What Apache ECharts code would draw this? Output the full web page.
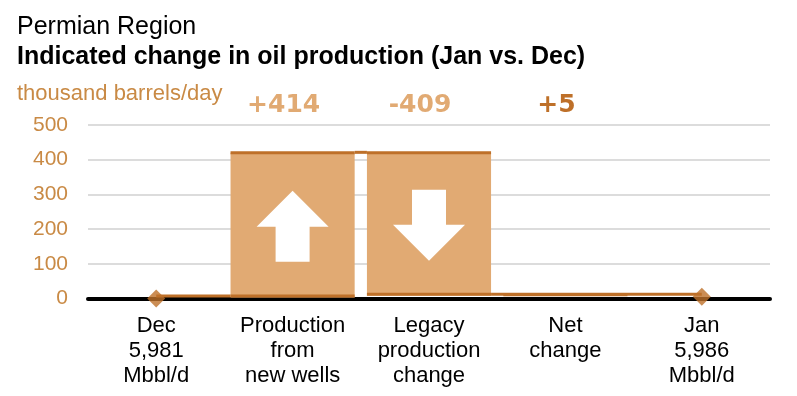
<!DOCTYPE html>
<html>
<head>
<meta charset="utf-8">
<script src="https://cdn.jsdelivr.net/npm/echarts@6/dist/echarts.min.js"></script>
<style>
html,body{margin:0;padding:0;background:#fff;}
#c{width:797px;height:396px;}
</style>
</head>
<body>
<div id="c"></div>
<script>
// ---- data ----
const categories = ['Dec\n5,981\nMbbl/d', 'Production\nfrom\nnew wells', 'Legacy\nproduction\nchange', 'Net\nchange', 'Jan\n5,986\nMbbl/d'];
const decLevel = 5981;          // Mbbl/d
const janLevel = 5986;          // Mbbl/d
const newWellsChange = 414;     // thousand b/d
const legacyChange = -409;      // thousand b/d
const netChange = janLevel - decLevel; // 5
const yTicks = [0, 100, 200, 300, 400, 500];

// ---- style ----
const FILL = '#E1AA73';
const DARK = '#BE7029';
const AXISTXT = '#C98A45';
const FONT = '"Liberation Sans", Arial, sans-serif';

// running totals relative to Dec
const afterNew = newWellsChange;
const afterLegacy = afterNew + legacyChange;
// [category index, low, high, arrow direction]
const bars = [
  [1, 0, afterNew, 1],
  [2, afterLegacy, afterNew, -1],
  [3, 0, netChange, 0]
];
const points = [[0, 0], [4, netChange]];
const isBar = i => bars.some(b => b[0] === i);
const connectors = [
  [0, 1, 0],
  [1, 2, afterNew],
  [2, 4, afterLegacy]
];
const fmt = v => (v >= 0 ? '+' : '') + v;
const changeLabels = [
  [1, fmt(newWellsChange), FILL],
  [2, fmt(legacyChange), FILL],
  [3, fmt(netChange), DARK]
];

const chart = echarts.init(document.getElementById('c'));
const BW = 0.91;

function arrowPoints(cx, cy, dir) {
  const hw = 36, sw = 17, hh = 36, total = 71;
  const tipY = cy - dir * total / 2;
  const baseY = tipY + dir * hh;
  const endY = cy + dir * total / 2;
  return [
    [cx, tipY], [cx + hw, baseY], [cx + sw, baseY], [cx + sw, endY],
    [cx - sw, endY], [cx - sw, baseY], [cx - hw, baseY]
  ];
}

chart.setOption({
  animation: false,
  backgroundColor: '#fff',
  title: [
    {text: 'Permian Region', left: 12, top: 10, textStyle: {fontFamily: FONT, fontSize: 25, fontWeight: 'normal', color: '#000'}},
    {text: 'Indicated change in oil production (Jan vs. Dec)', left: 12, top: 40, textStyle: {fontFamily: FONT, fontSize: 25, fontWeight: 'bold', color: '#000'}},
    {text: 'thousand barrels/day', left: 12, top: 78, textStyle: {fontFamily: FONT, fontSize: 22, fontWeight: 'normal', color: AXISTXT}}
  ],
  grid: {left: 88, right: 27, top: 125, bottom: 97.5, containLabel: false},
  xAxis: {
    type: 'category',
    data: categories,
    axisLine: {show: true, lineStyle: {color: '#000', width: 4}},
    axisTick: {show: false},
    axisLabel: {fontFamily: FONT, fontSize: 22, lineHeight: 25, color: '#000', margin: 15, interval: 0}
  },
  yAxis: {
    type: 'value',
    min: yTicks[0], max: yTicks[yTicks.length - 1], interval: 100,
    axisLine: {show: false},
    axisTick: {show: false},
    splitLine: {lineStyle: {color: '#d0d0d0', width: 1.5}},
    axisLabel: {fontFamily: FONT, fontSize: 21, color: AXISTXT, margin: 20}
  },
  series: [
    {
      type: 'custom',
      name: 'bars',
      z: 3,
      data: bars,
      renderItem: function (params, api) {
        const i = api.value(0), lo = api.value(1), hi = api.value(2), dir = api.value(3);
        const bw = api.size([1, 0])[0] * BW;
        const pLo = api.coord([i, lo]);
        const pHi = api.coord([i, hi]);
        const x = pLo[0] - bw / 2;
        const top = pHi[1] - 2;
        const bot = pLo[1] - 1;
        const children = [];
        if (bot - top > 6) {
          children.push({type: 'rect', shape: {x: x, y: top, width: bw, height: bot - top}, style: {fill: FILL}});
          children.push({type: 'line', shape: {x1: x, y1: bot - 1.5, x2: x + bw, y2: bot - 1.5}, style: {stroke: DARK, lineWidth: 3}});
        }
        children.push({type: 'line', shape: {x1: x, y1: top, x2: x + bw, y2: top}, style: {stroke: DARK, lineWidth: 3}});
        if (dir !== 0) {
          children.push({type: 'polygon', shape: {points: arrowPoints(pLo[0], (top + bot) / 2 + 1, dir)}, style: {fill: '#fff'}});
        }
        return {type: 'group', children: children};
      }
    },
    {
      type: 'custom',
      name: 'connectors',
      z: 4,
      data: connectors,
      renderItem: function (params, api) {
        const a = api.value(0), b = api.value(1), lvl = api.value(2);
        const bw = api.size([1, 0])[0] * BW;
        const pa = api.coord([a, lvl]);
        const pb = api.coord([b, lvl]);
        const x1 = pa[0] + (isBar(a) ? bw / 2 : 0);
        const x2 = pb[0] - (isBar(b) ? bw / 2 : 0);
        const y = pa[1] - 2.5;
        return {type: 'line', shape: {x1: x1, y1: y, x2: x2, y2: y}, style: {stroke: DARK, lineWidth: 3}};
      }
    },
    {
      type: 'scatter',
      name: 'levels',
      z: 5,
      symbol: 'diamond',
      symbolSize: [18, 18],
      itemStyle: {color: DARK},
      data: points
    },
    {
      type: 'custom',
      name: 'changeLabels',
      z: 6,
      data: changeLabels.map(d => [d[0], yTicks[yTicks.length - 1]]),
      renderItem: function (params, api) {
        const d = changeLabels[params.dataIndex];
        const p = api.coord([api.value(0), api.value(1)]);
        return {
          type: 'text',
          x: p[0] - 9, y: p[1] - 20,
          style: {text: d[1], fill: d[2], font: 'bold 25px "DejaVu Sans", sans-serif', align: 'center', verticalAlign: 'middle'}
        };
      }
    }
  ]
});
</script>
</body>
</html>
